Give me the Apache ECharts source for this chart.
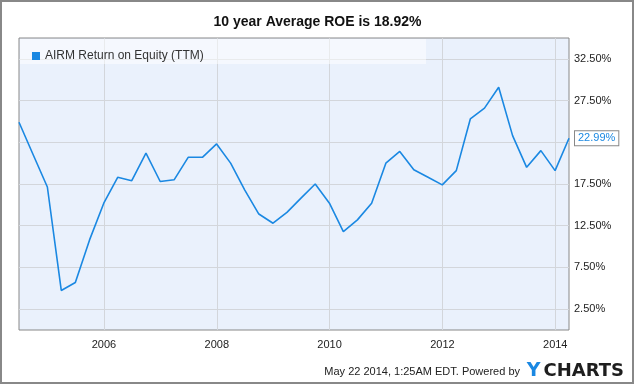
<!DOCTYPE html>
<html>
<head>
<meta charset="utf-8">
<script src="https://cdn.jsdelivr.net/npm/echarts@6/dist/echarts.min.js"></script>
<style>html,body{margin:0;padding:0;background:#fff}#c{width:635px;height:385px}</style>
</head>
<body>
<div id="c"></div>
<script>
var titleText = '10 year Average ROE is 18.92%';
var seriesName = 'AIRM Return on Equity (TTM)';
var dates = ['2004-06-30','2004-09-30','2004-12-31','2005-03-31','2005-06-30','2005-09-30','2005-12-31',
  '2006-03-31','2006-06-30','2006-09-30','2006-12-31','2007-03-31','2007-06-30','2007-09-30','2007-12-31',
  '2008-03-31','2008-06-30','2008-09-30','2008-12-31','2009-03-31','2009-06-30','2009-09-30','2009-12-31',
  '2010-03-31','2010-06-30','2010-09-30','2010-12-31','2011-03-31','2011-06-30','2011-09-30','2011-12-31',
  '2012-03-31','2012-06-30','2012-09-30','2012-12-31','2013-03-31','2013-06-30','2013-09-30','2013-12-31',
  '2014-03-31'];
var roe = [24.9,21.0,17.14,4.74,5.7,10.8,15.2,
  18.3,17.9,21.2,17.8,18.0,20.7,20.7,22.3,
  20.0,16.8,13.9,12.8,14.1,15.8,17.5,15.2,
  11.8,13.2,15.2,20.0,21.4,19.2,18.3,17.4,
  19.1,25.3,26.6,29.1,23.3,19.5,21.5,19.1,
  22.99];
var xTickDates = ['2006-01-01','2008-01-01','2010-01-01','2012-01-01','2014-01-01'];
var yTicks = [2.5,7.5,12.5,17.5,22.5,27.5,32.5];
var footerText = 'May 22 2014, 1:25AM EDT. Powered by';

function toYear(s){
  var d = new Date(s + 'T00:00:00Z');
  var y = d.getUTCFullYear();
  var start = Date.UTC(y,0,1), end = Date.UTC(y+1,0,1);
  return y + (d.getTime() - start) / (end - start);
}
var chart = echarts.init(document.getElementById('c'), null, {renderer:'canvas'});
var xTicks = xTickDates.map(toYear);
var data = dates.map(function(d, i){ return [toYear(d), roe[i]]; });
var FONT = 'Liberation Sans, Arial, sans-serif';
var BLUE = '#1a88e2';

chart.setOption({
  animation: false,
  textStyle: {fontFamily: FONT},
  title: {
    text: titleText, left: 'center', top: 10,
    textStyle: {fontSize: 14, fontWeight: 'bold', color: '#111', fontFamily: FONT}
  },
  legend: {
    data: [seriesName], left: 27, top: 45, icon: 'rect', itemWidth: 8, itemHeight: 8, itemGap: 4,
    textStyle: {fontSize: 12, color: '#333', fontFamily: FONT}
  },
  grid: {
    left: 19, right: 66, top: 38, bottom: 55, show: true,
    backgroundColor: '#eaf1fc', borderColor: '#888', borderWidth: 1
  },
  xAxis: {
    type: 'value',
    min: data[0][0], max: data[data.length-1][0],
    axisLine: {show: false},
    axisTick: {show: false, customValues: xTicks},
    axisLabel: {
      customValues: xTicks, color: '#222', fontSize: 11, margin: 9,
      formatter: function(v){ return String(Math.round(v)); }
    },
    splitLine: {show: true, lineStyle: {color: '#d3d6db', width: 1}}
  },
  yAxis: {
    type: 'value', position: 'right', min: 0, max: 35,
    axisLine: {show: false},
    axisTick: {show: false, customValues: yTicks},
    axisLabel: {
      customValues: yTicks, color: '#222', fontSize: 11, margin: 5,
      formatter: function(v){ return v.toFixed(2) + '%'; }
    },
    splitLine: {show: true, lineStyle: {color: '#d3d6db', width: 1}}
  },
  series: [{
    name: seriesName, type: 'line', data: data, showSymbol: false, symbol: 'none',
    itemStyle: {color: BLUE},
    lineStyle: {color: BLUE, width: 1.6},
    endLabel: {
      show: true, distance: 6,
      formatter: function(p){ return p.value[1].toFixed(2) + '%'; },
      color: BLUE, fontSize: 11, fontFamily: FONT,
      backgroundColor: '#fff', borderColor: '#888', borderWidth: 1, padding: [2,3,1,3]
    }
  }],
  graphic: [
    {type: 'rect', shape: {x: 1, y: 1, width: 632, height: 382}, silent: true,
     style: {fill: 'none', stroke: '#888', lineWidth: 2}, z: 100},
    {type: 'rect', shape: {x: 20, y: 39, width: 406, height: 25}, silent: true,
     style: {fill: 'rgba(255,255,255,0.5)'}, z: 1},
    {type: 'text', right: 115, top: 366, silent: true,
     style: {text: footerText, fill: '#222', font: '11px ' + FONT}},
    {type: 'text', right: 11, top: 362, silent: true,
     style: {
       text: '{y|Y}{c|CHARTS}',
       rich: {
         y: {fill: '#1a88e2', font: 'bold 19px DejaVu Sans', padding: [0,3,0,0]},
         c: {fill: '#1e1e1e', font: 'bold 18px DejaVu Sans'}
       }
     }}
  ]
});
</script>
</body>
</html>
